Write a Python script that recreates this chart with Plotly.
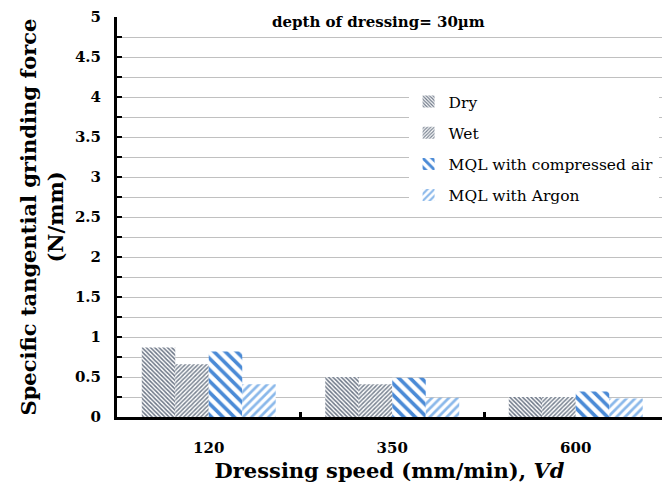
import plotly.graph_objects as go

categories = ["120", "350", "600"]
series_names = ["Dry", "Wet", "MQL with compressed air", "MQL with Argon"]
dry = [0.87, 0.50, 0.25]
wet = [0.66, 0.41, 0.25]
mql_air = [0.82, 0.49, 0.32]
mql_argon = [0.41, 0.24, 0.23]
values = [dry, wet, mql_air, mql_argon]

styles = [
    dict(shape="\\", fg="#6c7686", size=3, sol=0.5),
    dict(shape="/", fg="#7a8492", size=3, sol=0.5),
    dict(shape="\\", fg="#4a8ad6", size=8, sol=0.45),
    dict(shape="/", fg="#8ab8ea", size=6, sol=0.45),
]

FONT = "DejaVu Serif"
fig = go.Figure()
for i, (name, vals, st) in enumerate(zip(series_names, values, styles)):
    fig.add_trace(go.Bar(
        x=categories, y=vals, name=name, legendgroup=name,
        marker=dict(color="white", line=dict(width=0),
                    pattern=dict(shape=st["shape"], fgcolor=st["fg"], bgcolor="white",
                                 size=st["size"], solidity=st["sol"], fillmode="replace",
                                 fgopacity=1)),
    ))

fig.update_layout(
    width=662, height=498,
    margin=dict(l=117, r=0, t=17, b=81),
    paper_bgcolor="white", plot_bgcolor="white",
    barmode="group", bargap=0.27, bargroupgap=0,
    font=dict(family=FONT, color="black"),
    showlegend=True,
    legend=dict(x=0.535, y=0.83, xanchor="left", yanchor="top", bgcolor="white",
                font=dict(family=FONT, size=15.5), tracegroupgap=8, itemwidth=30),
    xaxis=dict(type="category", range=[-0.5, 2.47], showline=True, linecolor="black", linewidth=3,
               ticks="inside", tickson="boundaries", ticklen=5, tickwidth=3, tickcolor="black",
               tickfont=dict(family=FONT, size=15, weight="bold"), ticklabelstandoff=15,
               showgrid=False,
               title=dict(text="Dressing speed (mm/min), <i>Vd</i>",
                          font=dict(family=FONT, size=21, weight="bold"), standoff=8)),
    yaxis=dict(range=[0, 5], dtick=0.5, tick0=0, showline=True, linecolor="black", linewidth=3,
               ticks="inside", ticklen=5, tickwidth=2, tickcolor="black",
               showgrid=True, gridcolor="#c0c0c0", gridwidth=1, zeroline=False,
               tickfont=dict(family=FONT, size=15, weight="bold"), ticklabelstandoff=10,
               minor=dict(dtick=0.25, showgrid=True, gridcolor="#c0c0c0", gridwidth=1,
                          ticks="inside", ticklen=5, tickwidth=2, tickcolor="black"),
               title=dict(text="Specific tangential grinding force<br>(N/mm)",
                          font=dict(family=FONT, size=21, weight="bold"), standoff=6)),
    annotations=[dict(text="depth of dressing= 30µm", x=0.48, y=1.0, xref="paper", yref="paper",
                      xanchor="center", yanchor="middle", yshift=-5, showarrow=False,
                      bgcolor="white", font=dict(family=FONT, size=15, weight="bold"))],
)

fig.write_html("out.html")
